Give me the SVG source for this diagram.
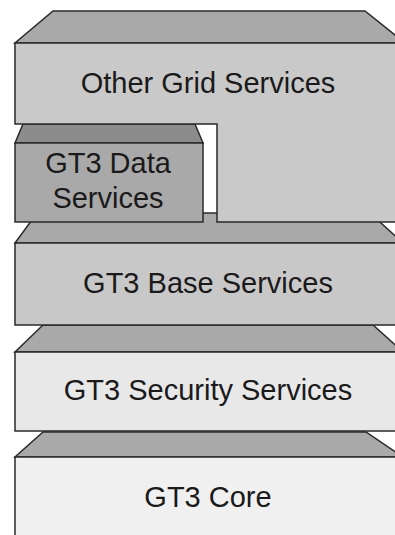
<svg xmlns="http://www.w3.org/2000/svg" width="395" height="535" viewBox="0 0 395 535">
<style>
  .top{fill:#a9a9a9;stroke:#2a2a2a;stroke-width:1.5;stroke-linejoin:miter}
  .edge{stroke:#2a2a2a;stroke-width:1.5}
  .lbl{font-family:"Liberation Sans",Arial,sans-serif;font-size:29px;fill:#1a1a1a;text-anchor:middle}
</style>
<rect width="395" height="535" fill="#ffffff"/>

<g id="core">
  <polygon class="top" points="43,432 366,432 403,457 15,457"/>
  <rect class="edge" x="15" y="457" width="390" height="90" fill="#f0f0f0"/>
  <text class="lbl" x="208" y="507">GT3 Core</text>
</g>

<g id="security">
  <polygon class="top" points="43,325 373,325 403,352 15,352"/>
  <rect class="edge" x="15" y="352" width="390" height="79" fill="#e8e8e8"/>
  <text class="lbl" x="208" y="400">GT3 Security Services</text>
</g>

<g id="base">
  <polygon class="top" points="37,213 370,213 403,243 15,243"/>
  <rect class="edge" x="15" y="243" width="390" height="82" fill="#c8c8c8"/>
  <text class="lbl" x="208" y="293">GT3 Base Services</text>
</g>

<g id="data">
  <polygon points="23,124 195,124 203,143 15,143" fill="#8c8c8c" stroke="#2a2a2a" stroke-width="1.5"/>
  <rect class="edge" x="15" y="143" width="188" height="79" fill="#a9a9a9"/>
  <text class="lbl" x="108" y="173" font-size="28">GT3 Data</text>
  <text class="lbl" x="108" y="208" font-size="28">Services</text>
</g>

<g id="other">
  <polygon class="top" points="53,11 365,11 405,43 15,43"/>
  <polygon class="edge" points="15,43 405,43 405,222 217,222 217,124 15,124" fill="#c9c9c9"/>
  <text class="lbl" x="208" y="93">Other Grid Services</text>
</g>

<g id="connectors"></g>
</svg>
